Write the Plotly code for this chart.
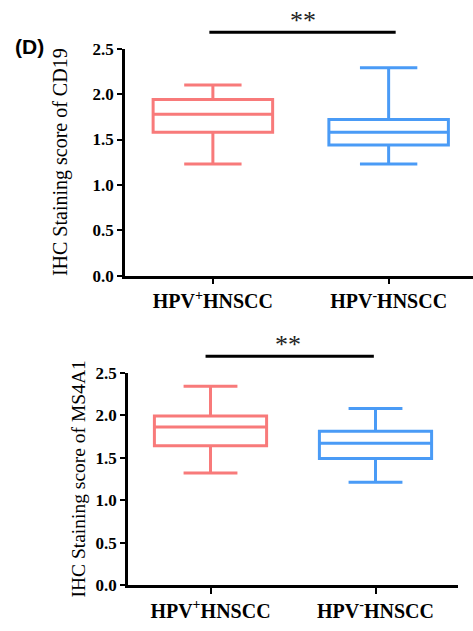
import plotly.graph_objects as go

categories = ["HPV<sup>+</sup>HNSCC", "HPV<sup>-</sup>HNSCC"]
colors = ["#F87A7A", "#4A9BF6"]

# CD19 box stats (top panel)
cd19_low = [1.23, 1.23]
cd19_q1 = [1.58, 1.44]
cd19_med = [1.78, 1.58]
cd19_q3 = [1.94, 1.72]
cd19_high = [2.10, 2.29]

# MS4A1 box stats (bottom panel)
ms_low = [1.32, 1.21]
ms_q1 = [1.64, 1.49]
ms_med = [1.86, 1.67]
ms_q3 = [1.99, 1.81]
ms_high = [2.34, 2.08]

y_ticks = [0.0, 0.5, 1.0, 1.5, 2.0, 2.5]
y_ticktext = ["0.0", "0.5", "1.0", "1.5", "2.0", "2.5"]
sig_label = "**"

serif = "Liberation Serif"

fig = go.Figure()

def add_boxes(low, q1, med, q3, high, xa, ya):
    for i in range(len(categories)):
        fig.add_trace(go.Box(
            x=[i], lowerfence=[low[i]], q1=[q1[i]], median=[med[i]],
            q3=[q3[i]], upperfence=[high[i]],
            width=0.68, whiskerwidth=0.48,
            line=dict(color=colors[i], width=3),
            fillcolor="rgba(255,255,255,0)",
            boxpoints=False, showlegend=False,
            xaxis=xa, yaxis=ya, hoverinfo="skip",
        ))

add_boxes(cd19_low, cd19_q1, cd19_med, cd19_q3, cd19_high, "x", "y")
add_boxes(ms_low, ms_q1, ms_med, ms_q3, ms_high, "x2", "y2")

W, H = 473, 631
def px(x):
    return x / W
def py(y):
    return (H - y) / H

bold_cats = ["<b>" + c + "</b>" for c in categories]
bold_yt = ["<b>" + t + "</b>" for t in y_ticktext]

xcommon = dict(
    tickmode="array", tickvals=[0, 1], ticktext=bold_cats,
    showline=True, linecolor="black", linewidth=2.5,
    ticks="outside", ticklen=6, tickwidth=2, tickcolor="black",
    showgrid=False, zeroline=False,
    tickfont=dict(family=serif, size=20, color="black"),
)
ycommon = dict(
    range=[0, 2.5], tickmode="array", tickvals=y_ticks, ticktext=bold_yt,
    showline=True, linecolor="black", linewidth=2.5,
    ticks="outside", ticklen=5, tickwidth=2, tickcolor="black",
    showgrid=False, zeroline=False,
    tickfont=dict(family=serif, size=17, color="black"),
)

fig.update_layout(
    width=W, height=H,
    margin=dict(l=0, r=0, t=0, b=0),
    paper_bgcolor="white", plot_bgcolor="white",
    xaxis=dict(domain=[px(125), 1.0], range=[-0.5, 1.48], anchor="y", **xcommon),
    yaxis=dict(domain=[py(275), py(41)], anchor="x",
               title=dict(text="IHC Staining score of CD19", standoff=20,
                          font=dict(family=serif, size=20, color="black")),
               **ycommon),
    xaxis2=dict(domain=[px(128), px(458)], range=[-0.5, 1.5], anchor="y2", **xcommon),
    yaxis2=dict(domain=[py(594), py(375)], anchor="x2",
               title=dict(text="IHC Staining score of MS4A1", standoff=5,
                          font=dict(family=serif, size=19.5, color="black")),
               **ycommon),
)

# significance brackets
fig.add_shape(type="line", xref="x", yref="paper", x0=-0.02, x1=1.04,
              y0=py(24), y1=py(24), line=dict(color="black", width=3))
fig.add_annotation(xref="x", yref="paper", x=0.51, y=py(12), text=sig_label,
                   showarrow=False, font=dict(family=serif, size=26, color="#222"),
                   yanchor="middle")
fig.add_shape(type="line", xref="x2", yref="paper", x0=-0.03, x1=0.99,
              y0=py(358), y1=py(358), line=dict(color="black", width=3))
fig.add_annotation(xref="x2", yref="paper", x=0.47, y=py(346), text=sig_label,
                   showarrow=False, font=dict(family=serif, size=26, color="#222"),
                   yanchor="middle")

# panel label
fig.add_annotation(xref="paper", yref="paper", x=px(29), y=py(39), text="<b>(D)</b>",
                   showarrow=False, font=dict(family="Liberation Sans", size=21, color="black"),
                   xanchor="center", yanchor="middle")

fig.write_html("out.html")
